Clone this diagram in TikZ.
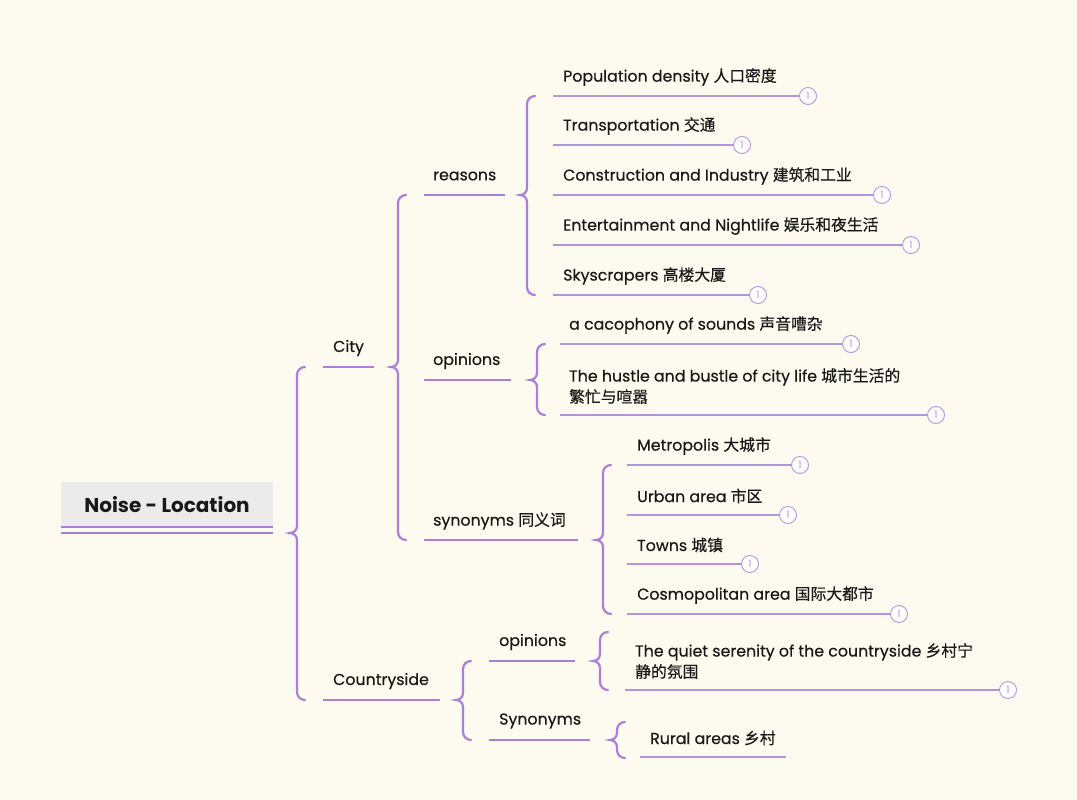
\documentclass[tikz,border=0pt]{standalone}
\usepackage{fontspec}
\setmainfont{Poppins}[BoldFont=*,BoldFeatures={FakeBold=0.5}]
\newfontfamily\rootfont{Poppins}
\newfontfamily\cjk{Noto Sans CJK SC}[BoldFont=*,BoldFeatures={FakeBold=0.4}]
\definecolor{bg}{HTML}{FDFBF0}
\definecolor{pu}{HTML}{A97FD9}
\definecolor{pl}{HTML}{B594DF}
\tikzset{
  lbl/.style={anchor=west,inner sep=0pt,font=\fontsize{15.8}{21}\bfseries,text=black!90,align=left},
  br/.style={draw=pu,line width=2.2pt,line cap=round},
  ul/.style={draw=pl,line width=2pt},
  badge/.style={circle,draw=pl,fill=white,line width=0.9pt,minimum size=17pt,inner sep=0pt,font=\fontsize{10}{10}\selectfont,text=pl}
}
\newcommand{\brk}[4]{\draw[br] (#1+8,#2) to[out=180,in=90] (#1,#2+8) -- (#1,#3-7) to[out=-90,in=0] (#1-7,#3) to[out=0,in=90] (#1,#3+7) -- (#1,#4-8) to[out=-90,in=180] (#1+8,#4);}
\newcommand{\leaf}[7]{% name, x1, x2, y, textx, texty-offset, text
  \coordinate (#1a) at (#2,#4); \coordinate (#1b) at (#3,#4);
  \node[lbl] (#1t) at (#5,#4-#6) {#7};
  \draw[ul] (#1a) -- (#1b);
  \node[badge] (#1c) at (#3+8,#4) {1};}
\newcommand{\midnode}[6]{% name,x1,x2,y,textx,text
  \coordinate (#1a) at (#2,#4); \coordinate (#1b) at (#3,#4);
  \node[lbl] (#1t) at (#5,#4-19) {#6};
  \draw[ul,draw=pu] (#1a) -- (#1b);}
\begin{document}
\begin{tikzpicture}[x=1pt,y=-1pt]
\fill[bg] (0,0) rectangle (1077,800);
\useasboundingbox (0,0) rectangle (1077,800);
% root
\node[fill=black!8,minimum width=212pt,minimum height=45pt,inner sep=0pt,font=\fontsize{20}{24}\rootfont\bfseries,text=black!90] (root) at (167,504.5) {Noise - Location};
\draw[pu,line width=2pt] (root.south west) -- (root.south east);
\draw[pu,line width=2pt] ([yshift=-6pt]root.south west) -- ([yshift=-6pt]root.south east);
\brk{297}{367}{533}{700}
\midnode{city}{323}{374}{367}{333}{City}
\midnode{cs}{323}{440}{700}{333}{Countryside}
\brk{398}{195}{367}{540}
\midnode{rea}{424}{505}{195}{433}{reasons}
\midnode{opi}{424}{511}{380}{433}{opinions}
\midnode{syn}{424}{578}{540}{433}{synonyms {\cjk 同义词}}
\brk{527}{96}{195}{295}
\leaf{p1}{553}{800}{96}{563}{19}{Population density {\cjk 人口密度}}
\leaf{p2}{553}{734}{145}{563}{19}{Transportation {\cjk 交通}}
\leaf{p3}{553}{874}{195}{563}{19}{Construction and Industry {\cjk 建筑和工业}}
\leaf{p4}{553}{903}{245}{563}{19}{Entertainment and Nightlife {\cjk 娱乐和夜生活}}
\leaf{p5}{553}{750}{295}{563}{19}{Skyscrapers {\cjk 高楼大厦}}
\brk{537}{344}{380}{415}
\leaf{o1}{560}{843}{344}{569}{19}{a cacophony of sounds {\cjk 声音嘈杂}}
\leaf{o2}{560}{928}{415}{569}{29}{The hustle and bustle of city life {\cjk 城市生活的}\\{\cjk 繁忙与喧嚣}}
\brk{603}{465}{540}{614}
\leaf{s1}{627}{792}{465}{637}{19}{Metropolis {\cjk 大城市}}
\leaf{s2}{627}{780}{515}{637}{19}{Urban area {\cjk 市区}}
\leaf{s3}{627}{742}{564}{637}{19}{Towns {\cjk 城镇}}
\leaf{s4}{627}{891}{614}{637}{19}{Cosmopolitan area {\cjk 国际大都市}}
\brk{463}{661}{700}{740}
\midnode{copi}{489}{575}{661}{499}{opinions}
\midnode{csyn}{489}{590}{740}{499}{Synonyms}
\brk{600}{632}{661}{690}
\leaf{q1}{625}{1000}{690}{635}{29}{The quiet serenity of the countryside {\cjk 乡村宁}\\{\cjk 静的氛围}}
\brk{617}{722}{740}{758}
\coordinate (r1a) at (640,757); \coordinate (r1b) at (786,757);
\node[lbl] (r1t) at (650,738) {Rural areas {\cjk 乡村}};
\draw[ul] (r1a) -- (r1b);
\end{tikzpicture}
\end{document}
